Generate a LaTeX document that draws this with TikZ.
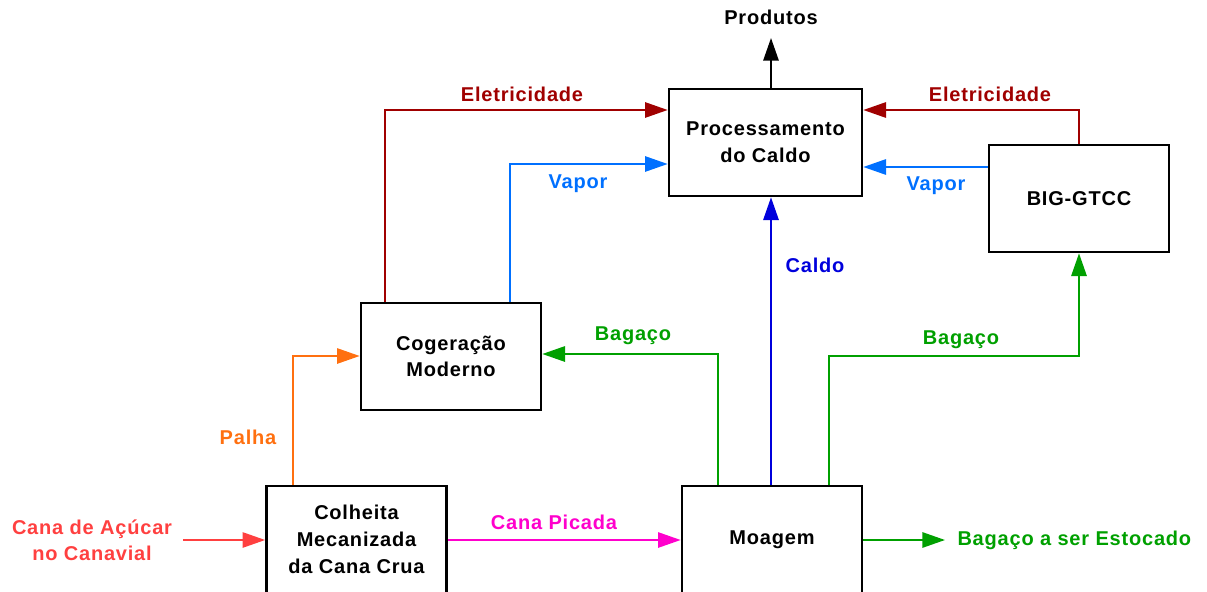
\documentclass[tikz,border=0pt]{standalone}
\usepackage{fontspec}
\setmainfont[LetterSpace=4]{Liberation Sans}
\usetikzlibrary{arrows.meta}

\definecolor{canared}{RGB}{255,64,64}
\definecolor{picada}{RGB}{255,0,204}
\definecolor{bagaco}{RGB}{0,160,0}
\definecolor{palha}{RGB}{255,112,16}
\definecolor{eletric}{RGB}{160,0,0}
\definecolor{vapor}{RGB}{0,112,255}
\definecolor{caldo}{RGB}{0,0,220}

\tikzset{every picture/.style={line width=0.75pt}}
\tikzset{
  block/.style={draw, line width=2pt, minimum width=135pt, minimum height=80.25pt, align=center, inner sep=0.75pt, font=\bfseries\fontsize{15}{20}\selectfont},
  lbl/.style={inner sep=0.75pt, font=\bfseries\fontsize{15}{19.5}\selectfont, align=center},
  flow/.style={line width=1.4pt, -{Triangle[length=17pt,width=11.5pt]}}
}

\begin{document}
\begin{tikzpicture}[x=0.75pt,y=0.75pt,yscale=-1,xscale=1]
\useasboundingbox (0,0) rectangle (1207,592);
\clip (0,0) rectangle (1207,592);

%Shape: Rectangle [id:proc]
\node [block, minimum width=144.75pt] (proc) at (765.5,142.5) {Processamento\\do Caldo};
%Shape: Rectangle [id:big]
\node [block] (big) at (1079,198.5) {BIG-GTCC};
%Shape: Rectangle [id:cog]
\node [block] (cog) at (451,356.5) {Cogeração\\Moderno};
%Shape: Rectangle [id:colh]
\node [block] (colh) at (356.5,539.5) {Colheita\\Mecanizada\\da Cana Crua};
%Shape: Rectangle [id:moag]
\node [block] (moag) at (772,539.5) {Moagem};

% bend points
\coordinate (eleL) at (385,110);
\coordinate (vapL) at (510,164);
\coordinate (eleR) at (1079,110);
\coordinate (vapR) at (989,167);
\coordinate (palhaP) at (293,356);
\coordinate (bagL) at (718,354);
\coordinate (bagR) at (829,356);
\coordinate (caldoP) at (771,0);
\coordinate (prod) at (771,38);
\coordinate (entra) at (183,540);
\coordinate (estoc) at (945,540);

%Straight Lines [id:entrada]
\draw [flow, canared] (entra) -- (colh.west |- entra);
%Straight Lines [id:picada]
\draw [flow, picada] (colh.east |- entra) -- (moag.west |- entra);
%Straight Lines [id:estocado]
\draw [flow, bagaco] (moag.east |- estoc) -- (estoc);
%Straight Lines [id:palha]
\draw [flow, palha] (colh.north -| palhaP) |- (cog.west |- palhaP);
%Straight Lines [id:bagacoL]
\draw [flow, bagaco] (moag.north -| bagL) |- (cog.east |- bagL);
%Straight Lines [id:caldo]
\draw [flow, caldo] (moag.north -| caldoP) -- (proc.south -| caldoP);
%Straight Lines [id:bagacoR]
\draw [flow, bagaco] (moag.north -| bagR) |- (big.south |- bagR) -- (big.south);
%Straight Lines [id:eletL]
\draw [flow, eletric] (cog.north -| eleL) |- (proc.west |- eleL);
%Straight Lines [id:vaporL]
\draw [flow, vapor] (cog.north -| vapL) |- (proc.west |- vapL);
%Straight Lines [id:eletR]
\draw [flow, eletric] (big.north) -- (eleR) -- (proc.east |- eleR);
%Straight Lines [id:vaporR]
\draw [flow, vapor] (big.west |- vapR) -- (proc.east |- vapR);
%Straight Lines [id:produtos]
\draw [flow, black] (proc.north -| prod) -- (prod);

% Text Node
\node [lbl] (tprod) at (771,17) {Produtos};
% Text Node
\node [lbl, eletric] (teleL) at (522,94) {Eletricidade};
% Text Node
\node [lbl, vapor] (tvapL) at (578,184) {Vapor};
% Text Node
\node [lbl, eletric] (teleR) at (990,94) {Eletricidade};
% Text Node
\node [lbl, vapor] (tvapR) at (936,186) {Vapor};
% Text Node
\node [lbl, caldo] (tcaldo) at (815,265) {Caldo};
% Text Node
\node [lbl, bagaco] (tbagL) at (633,336) {Bagaço};
% Text Node
\node [lbl, bagaco] (tbagR) at (961,340) {Bagaço};
% Text Node
\node [lbl, palha] (tpalha) at (248,437) {Palha};
% Text Node
\node [lbl, canared] (tcana) at (92,540) {Cana de Açúcar\\no Canavial};
% Text Node
\node [lbl, picada] (tpicada) at (554,522) {Cana Picada};
% Text Node
\node [lbl, bagaco, anchor=west] (testoc) at (956,540) {Bagaço a ser Estocado};

\end{tikzpicture}
\end{document}
